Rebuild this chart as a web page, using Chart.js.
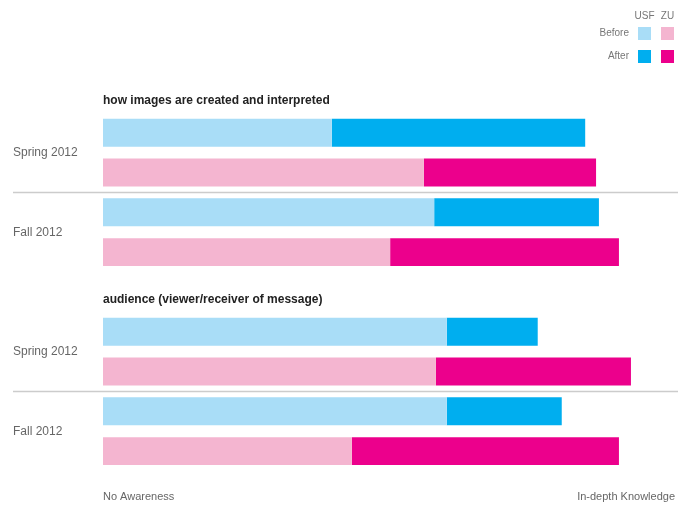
<!DOCTYPE html>
<html lang="en">
<head>
    <meta charset="UTF-8">
    <title>Awareness Before / After</title>
    <script src="https://cdn.jsdelivr.net/npm/chart.js"></script>
    <style>
        html, body { margin: 0; padding: 0; background: #fff; }
        .wrap { width: 678px; height: 506px; }
    </style>
</head>
<body>
    <div class="wrap">
        <canvas id="chart"></canvas>
    </div>

    <script>
        // topics, semesters and schools
        const topics = ['how images are created and interpreted', 'audience (viewer/receiver of message)'];
        const semesters = ['Spring 2012', 'Fall 2012'];
        const schools = ['USF', 'ZU'];
        const phases = ['Before', 'After'];

        // 0 = No Awareness, 100 = In-depth Knowledge
        // order: topic > semester > school
        const beforeVals = [40.0, 56.1, 57.9, 50.2, 60.1, 58.2, 60.1, 43.5];
        const afterVals  = [84.3, 86.2, 86.7, 90.2, 76.0, 92.3, 80.2, 90.2];

        const axisLabels = ['No Awareness', 'In-depth Knowledge'];

        const lightColors = { USF: '#a9ddf7', ZU: '#f4b5d0' };
        const darkColors  = { USF: '#00aeef', ZU: '#ec008c' };

        // one empty row above each topic for its heading
        const rows = [], rowSchool = [], rowIdx = [];
        let k = 0;
        topics.forEach((t, ti) => {
            rows.push('topic' + ti); rowSchool.push(null); rowIdx.push(null);
            semesters.forEach(s => {
                schools.forEach(sc => {
                    rows.push(s + ' ' + sc + ' ' + ti);
                    rowSchool.push(sc);
                    rowIdx.push(k++);
                });
            });
        });

        const beforeData = rowIdx.map(i => i === null ? null : beforeVals[i]);
        const gainData = rowIdx.map(i => i === null ? null : afterVals[i] - beforeVals[i]);

        const font = "Helvetica, Arial, 'Liberation Sans', sans-serif";

        const decor = {
            id: 'decor',
            afterDraw(chart) {
                const ctx = chart.ctx;
                const y = chart.scales.y;
                const area = chart.chartArea;
                ctx.save();

                // topic headings
                ctx.fillStyle = '#222';
                ctx.font = 'bold 12px ' + font;
                ctx.textAlign = 'left';
                ctx.textBaseline = 'middle';
                topics.forEach((t, ti) => {
                    const r = rows.indexOf('topic' + ti);
                    ctx.fillText(t, area.left, y.getPixelForValue(r) + 8);
                });

                // semester labels and separators
                ctx.font = '12px ' + font;
                ctx.fillStyle = '#666';
                topics.forEach((t, ti) => {
                    const base = rows.indexOf('topic' + ti) + 1;
                    semesters.forEach((s, si) => {
                        const r0 = base + si * schools.length;
                        const yc = (y.getPixelForValue(r0) + y.getPixelForValue(r0 + 1)) / 2;
                        ctx.fillText(s, 13, yc);
                        if (si < semesters.length - 1) {
                            const ys = (y.getPixelForValue(r0 + 1) + y.getPixelForValue(r0 + 2)) / 2;
                            ctx.strokeStyle = '#cccccc';
                            ctx.lineWidth = 1.5;
                            ctx.beginPath();
                            ctx.moveTo(13, ys);
                            ctx.lineTo(chart.width, ys);
                            ctx.stroke();
                        }
                    });
                });

                // legend matrix
                ctx.font = '10px ' + font;
                ctx.fillStyle = '#777';
                const colX = [638, 661], rowY = [27, 50];
                ctx.textAlign = 'center';
                schools.forEach((sc, i) => ctx.fillText(sc, colX[i] + 6.5, 16));
                ctx.textAlign = 'right';
                phases.forEach((p, j) => {
                    ctx.fillStyle = '#777';
                    ctx.fillText(p, 629, rowY[j] + 6.5);
                    schools.forEach((sc, i) => {
                        ctx.fillStyle = j === 0 ? lightColors[sc] : darkColors[sc];
                        ctx.fillRect(colX[i], rowY[j], 13, 13);
                    });
                });
                ctx.restore();
            }
        };

        new Chart(document.getElementById('chart'), {
            type: 'bar',
            data: {
                labels: rows,
                datasets: [{
                    label: 'Before',
                    data: beforeData,
                    backgroundColor: c => lightColors[rowSchool[c.dataIndex]] || 'transparent'
                }, {
                    label: 'After',
                    data: gainData,
                    backgroundColor: c => darkColors[rowSchool[c.dataIndex]] || 'transparent'
                }]
            },
            options: {
                indexAxis: 'y',
                responsive: true,
                maintainAspectRatio: false,
                animation: false,
                barPercentage: 0.7,
                categoryPercentage: 1,
                borderWidth: 0,
                layout: { padding: { left: 103, right: 3, top: 73, bottom: 3 } },
                plugins: {
                    legend: { display: false },
                    tooltip: { enabled: false }
                },
                scales: {
                    x: {
                        stacked: true,
                        min: 0,
                        max: 100,
                        grid: { display: false, drawTicks: false },
                        border: { display: false },
                        ticks: {
                            stepSize: 100,
                            align: 'inner',
                            maxRotation: 0,
                            padding: 19,
                            color: '#666',
                            font: { size: 11, family: font },
                            callback: (v) => v === 0 ? axisLabels[0] : (v === 100 ? axisLabels[1] : '')
                        },
                        afterFit: (scale) => {
                            scale.height = 32;
                            scale.paddingLeft = 0;
                            scale.paddingRight = 0;
                        }
                    },
                    y: {
                        stacked: true,
                        display: false
                    }
                }
            },
            plugins: [decor]
        });
    </script>
</body>
</html>
